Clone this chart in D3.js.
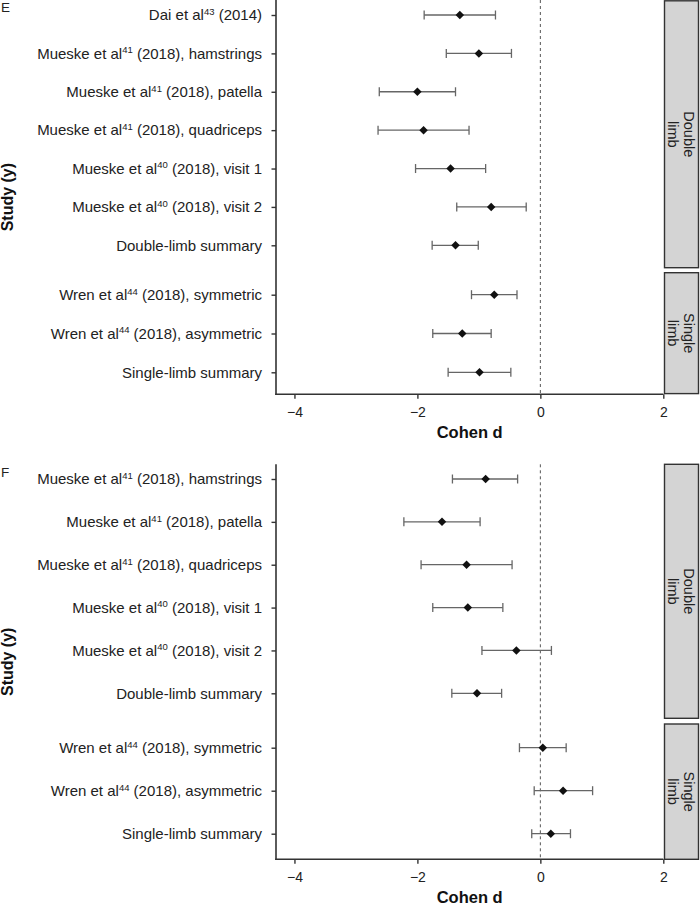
<!DOCTYPE html>
<html>
<head>
<meta charset="utf-8">
<script src="https://cdn.jsdelivr.net/npm/d3@7"></script>
<style>
  body { margin: 0; background: #fff; }
  svg { display: block; }
  text { font-family: "Liberation Sans", Arial, Helvetica, sans-serif; }
</style>
</head>
<body>
<svg id="chart" width="700" height="905"></svg>
<script>
// ---------------- DATA ----------------
const xTicks = [-4, -2, 0, 2];

// Panel E
const E_studies = [
  "Dai et al^43 (2014)",
  "Mueske et al^41 (2018), hamstrings",
  "Mueske et al^41 (2018), patella",
  "Mueske et al^41 (2018), quadriceps",
  "Mueske et al^40 (2018), visit 1",
  "Mueske et al^40 (2018), visit 2",
  "Double-limb summary",
  "Wren et al^44 (2018), symmetric",
  "Wren et al^44 (2018), asymmetric",
  "Single-limb summary"
];
const E_group = ["Double limb","Double limb","Double limb","Double limb","Double limb","Double limb","Double limb",
                 "Single limb","Single limb","Single limb"];
const E_est = [-1.31, -1.00, -2.00, -1.90, -1.46, -0.80, -1.38, -0.75, -1.27, -0.99];
const E_lo  = [-1.89, -1.53, -2.62, -2.64, -2.03, -1.36, -1.76, -1.12, -1.75, -1.50];
const E_hi  = [-0.73, -0.47, -1.38, -1.16, -0.89, -0.23, -1.01, -0.38, -0.80, -0.48];

// Panel F
const F_studies = [
  "Mueske et al^41 (2018), hamstrings",
  "Mueske et al^41 (2018), patella",
  "Mueske et al^41 (2018), quadriceps",
  "Mueske et al^40 (2018), visit 1",
  "Mueske et al^40 (2018), visit 2",
  "Double-limb summary",
  "Wren et al^44 (2018), symmetric",
  "Wren et al^44 (2018), asymmetric",
  "Single-limb summary"
];
const F_group = ["Double limb","Double limb","Double limb","Double limb","Double limb","Double limb",
                 "Single limb","Single limb","Single limb"];
const F_est = [-0.89, -1.60, -1.20, -1.18, -0.39, -1.03, 0.04, 0.37, 0.17];
const F_lo  = [-1.43, -2.22, -1.94, -1.75, -0.95, -1.44, -0.34, -0.10, -0.14];
const F_hi  = [-0.37, -0.98, -0.46, -0.61, 0.18, -0.63, 0.42, 0.85, 0.49];

const groups = ["Double limb", "Single limb"];

// ---------------- LAYOUT ----------------
const svg = d3.select("#chart");
const plotLeft = 276, plotRight = 663.3;
const stripX0 = 664.5, stripX1 = 698.5;
const FONT = '"Liberation Sans", Arial, sans-serif';

const panels = [
  { tag: "E", studies: E_studies, group: E_group, est: E_est, lo: E_lo, hi: E_hi,
    top: 0, bottom: 394.3, tagY: 12,
    facets: { "Double limb": { rows: [15, 245.3], box: [0.8, 267.7] },
              "Single limb": { rows: [294.7, 372.3], box: [272.7, 393.6] } } },
  { tag: "F", studies: F_studies, group: F_group, est: F_est, lo: F_lo, hi: F_hi,
    top: 464.3, bottom: 859.3, tagY: 477,
    facets: { "Double limb": { rows: [479, 693.3], box: [464.3, 718.3] },
              "Single limb": { rows: [747.7, 833.7], box: [724, 859.3] } } }
];

const x = d3.scaleLinear().domain([-4.3, 2]).range([plotLeft, plotRight]);
const axisColor = "#333";

function labelText(sel, s) {
  const parts = s.split(/\^(\d+)/);
  sel.text(null);
  parts.forEach((p, i) => {
    if (p === "") return;
    if (i % 2 === 1) {
      sel.append("tspan").attr("font-size", "9.5px").attr("dy", "-5.5").text(p);
    } else {
      const t = sel.append("tspan").text(p);
      if (i > 0) t.attr("dy", "5.5");
    }
  });
}

panels.forEach(P => {
  const g = svg.append("g");

  // strips
  groups.forEach(grp => {
    const f = P.facets[grp];
    g.append("rect")
      .attr("x", stripX0).attr("y", f.box[0])
      .attr("width", stripX1 - stripX0).attr("height", f.box[1] - f.box[0])
      .attr("fill", "#d4d4d4").attr("stroke", "#333").attr("stroke-width", 1.4);
    const cy = (f.box[0] + f.box[1]) / 2, cx = (stripX0 + stripX1) / 2;
    const words = grp.split(" ");
    const t = g.append("text")
      .attr("transform", `translate(${cx},${cy}) rotate(90)`)
      .attr("text-anchor", "middle")
      .attr("font-size", "14.5px").attr("fill", "#222");
    t.append("tspan").attr("x", 0).attr("y", -2).text(words[0]);
    t.append("tspan").attr("x", 0).attr("y", 13.5).text(words[1]);
  });

  // zero reference line
  g.append("line")
    .attr("x1", x(0)).attr("x2", x(0))
    .attr("y1", P.top).attr("y2", P.bottom)
    .attr("stroke", "#555").attr("stroke-width", 1)
    .attr("stroke-dasharray", "3,3");

  // y axis per facet
  groups.forEach(grp => {
    const f = P.facets[grp];
    const dom = P.studies.filter((s, i) => P.group[i] === grp);
    const y = d3.scalePoint().domain(dom).range(f.rows);
    f.y = y;
    const ax = g.append("g")
      .attr("transform", `translate(${plotLeft},0)`)
      .call(d3.axisLeft(y).tickSize(4.5).tickPadding(9.5));
    ax.select(".domain").remove();
    ax.selectAll(".tick line").attr("stroke", axisColor).attr("stroke-width", 1.4);
    ax.selectAll(".tick text")
      .attr("font-size", "15px").attr("fill", "#222")
      .attr("font-family", FONT)
      .each(function(d) { labelText(d3.select(this), d); });
  });

  // error bars and points
  const rows = P.studies.map((s, i) => ({ s, grp: P.group[i], est: P.est[i], lo: P.lo[i], hi: P.hi[i] }));
  const capH = 4.5;
  const eb = g.append("g");
  rows.forEach(r => {
    const yy = P.facets[r.grp].y(r.s);
    eb.append("line").attr("x1", x(r.lo)).attr("x2", x(r.hi)).attr("y1", yy).attr("y2", yy)
      .attr("stroke", "#666").attr("stroke-width", 1.3);
    eb.append("line").attr("x1", x(r.lo)).attr("x2", x(r.lo)).attr("y1", yy - capH).attr("y2", yy + capH)
      .attr("stroke", "#666").attr("stroke-width", 1.3);
    eb.append("line").attr("x1", x(r.hi)).attr("x2", x(r.hi)).attr("y1", yy - capH).attr("y2", yy + capH)
      .attr("stroke", "#666").attr("stroke-width", 1.3);
  });
  g.append("g").selectAll("path").data(rows).join("path")
    .attr("d", d3.symbol(d3.symbolSquare, 36)())
    .attr("transform", r => `translate(${x(r.est)},${P.facets[r.grp].y(r.s)}) rotate(45)`)
    .attr("fill", "#111");

  // left axis line
  g.append("line").attr("x1", plotLeft).attr("x2", plotLeft)
    .attr("y1", P.top).attr("y2", P.bottom + 0.8)
    .attr("stroke", axisColor).attr("stroke-width", 1.6);

  // x axis
  const xa = g.append("g").attr("transform", `translate(0,${P.bottom})`)
    .call(d3.axisBottom(x).tickValues(xTicks).tickSize(4.5).tickPadding(8)
      .tickFormat(d => d < 0 ? "\u2212" + Math.abs(d) : String(d)));
  xa.select(".domain").remove();
  xa.selectAll(".tick line").attr("stroke", axisColor).attr("stroke-width", 1.4);
  xa.selectAll(".tick text").attr("font-size", "14px").attr("fill", "#222")
    .attr("font-family", FONT);
  g.append("line").attr("x1", plotLeft - 0.8).attr("x2", plotRight)
    .attr("y1", P.bottom).attr("y2", P.bottom)
    .attr("stroke", axisColor).attr("stroke-width", 1.6);

  // axis titles
  g.append("text")
    .attr("x", (plotLeft + plotRight) / 2).attr("y", P.bottom + 44)
    .attr("text-anchor", "middle").attr("font-size", "16.5px").attr("font-weight", "bold")
    .attr("fill", "#111").text("Cohen d");
  g.append("text")
    .attr("transform", `translate(13,${(P.top + P.bottom) / 2}) rotate(-90)`)
    .attr("text-anchor", "middle").attr("font-size", "16px").attr("font-weight", "bold")
    .attr("fill", "#111").text("Study (y)");

  // panel tag
  g.append("text").attr("x", 1).attr("y", P.tagY)
    .attr("font-size", "13.5px").attr("fill", "#222").text(P.tag);
});
</script>
</body>
</html>
